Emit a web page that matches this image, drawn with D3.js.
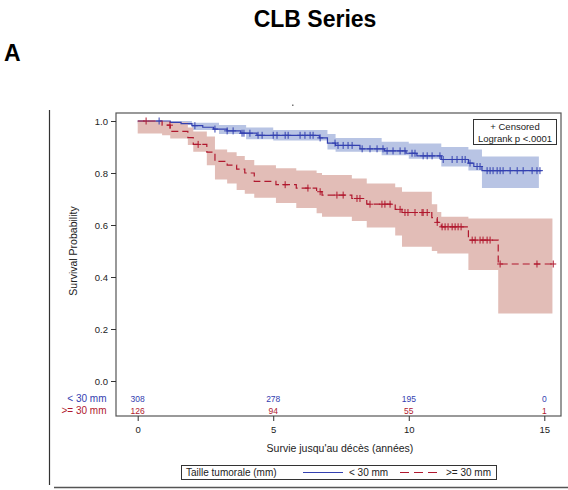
<!DOCTYPE html>
<html><head><meta charset="utf-8">
<script src="https://cdn.jsdelivr.net/npm/d3@7"></script>
<style>
body{margin:0;background:#fff;}
svg{display:block;font-family:Arial,"Liberation Sans",sans-serif;}
</style></head>
<body><svg id="c" width="568" height="490"></svg>
<script>
// ---- data ----
const groups = ["< 30 mm", ">= 30 mm"];
const xTicks = [0, 5, 10, 15];
const yTicks = [0.0, 0.2, 0.4, 0.6, 0.8, 1.0];
const atRiskSmall = [308, 278, 195, 0];
const atRiskLarge = [126, 94, 55, 1];

// KM steps [time, survival]
const stepsSmall = [[0,1.0],[1.2,0.995],[1.6,0.99],[2.0,0.982],[2.4,0.976],[2.8,0.969],[3.3,0.962],[3.8,0.953],[4.4,0.945],
  [6.7,0.935],[7.0,0.915],[7.3,0.906],[8.2,0.893],[9.1,0.885],[9.9,0.876],[10.3,0.866],[11.2,0.852],[12.2,0.838],[12.4,0.825],[12.7,0.809]];
const endSmall = 14.9;
const stepsLarge = [[0,1.0],[0.9,0.984],[1.2,0.96],[1.85,0.936],[2.05,0.91],[2.55,0.88],[2.85,0.845],[3.3,0.83],[3.65,0.815],[3.95,0.8],
  [4.3,0.768],[5.1,0.755],[5.85,0.742],[6.6,0.728],[6.8,0.715],[7.9,0.702],[8.45,0.68],[9.5,0.66],[9.75,0.648],[10.85,0.628],
  [11.05,0.61],[11.2,0.593],[12.2,0.542],[13.3,0.45]];
const endLarge = 15.3;

// confidence bands [time, lower, upper]
const ciSmall = [[0,0.99,1.0],[1.0,0.985,1.0],[2.0,0.965,0.993],[3.0,0.95,0.985],[4.0,0.93,0.975],[5.0,0.925,0.965],[7.0,0.89,0.95],
  [7.3,0.882,0.935],[9.0,0.868,0.92],[10.0,0.855,0.913],[11.2,0.825,0.9],[12.2,0.81,0.89],[12.7,0.742,0.863]];
const ciSmallEnd = 14.8;
const ciLarge = [[0,0.952,1.0],[0.9,0.945,1.0],[1.2,0.933,0.995],[1.85,0.908,0.975],[2.05,0.882,0.96],[2.55,0.83,0.94],[2.85,0.775,0.89],
  [3.3,0.76,0.88],[3.65,0.735,0.865],[3.95,0.72,0.85],[4.3,0.705,0.83],[5.1,0.685,0.818],[5.85,0.665,0.81],[6.6,0.645,0.8],
  [6.8,0.632,0.792],[7.9,0.615,0.779],[8.45,0.59,0.76],[9.5,0.56,0.745],[9.75,0.516,0.728],[10.85,0.5,0.68],[11.05,0.49,0.65],
  [11.2,0.49,0.632],[12.2,0.427,0.625],[13.3,0.26,0.625]];
const ciLargeEnd = 15.3;

// censored times
const censSmall = [0.79,2.11,2.85,3.3,3.52,3.85,3.92,4.14,4.44,4.59,5.0,5.14,5.44,5.55,5.99,6.17,6.36,6.47,6.73,7.28,7.39,7.58,7.76,7.91,
  8.28,8.57,8.83,9.05,9.2,9.42,9.68,9.86,10.12,10.23,10.53,10.68,10.86,11.15,11.27,11.6,11.78,11.97,12.08,12.26,12.52,12.63,12.89,
  13.0,13.11,13.26,13.37,13.48,13.74,14.0,14.22,14.55,14.73,14.84];
const censLarge = [0.31,1.19,2.23,5.44,6.28,6.73,7.35,7.58,8.09,8.2,8.57,9.01,9.12,9.31,9.68,9.86,9.97,10.23,10.49,10.53,10.68,
  11.05,11.23,11.34,11.45,11.6,11.71,11.82,11.93,12.34,12.45,12.63,12.74,12.89,13.0,13.37,14.73,15.33];

// ---- drawing ----
const svg = d3.select("#c");
const blue = "#3340b0", red = "#b0182e";
const blueBand = "#b8c4e4", redBand = "#e2bdb7";
const x = d3.scaleLinear().domain([0, 15]).range([137.7, 544.3]);
const y = d3.scaleLinear().domain([0, 1]).range([381, 121]);
const frame = {l:116, t:113, r:561, b:416};

// title & panel letter
svg.append("text").attr("x", 315).attr("y", 27).attr("text-anchor","middle")
  .attr("font-size", 23).attr("font-weight","bold").text("CLB Series");
svg.append("text").attr("x", 4).attr("y", 61).attr("font-size", 23).attr("font-weight","bold").text("A");
svg.append("rect").attr("x", 292).attr("y", 104.5).attr("width", 1.5).attr("height", 1.5).attr("fill", "#777");

// outer lines
svg.append("line").attr("x1",49.5).attr("x2",49.5).attr("y1",110).attr("y2",485).attr("stroke","#333").attr("stroke-width",1.2);
svg.append("line").attr("x1",54).attr("x2",568).attr("y1",487.5).attr("y2",487.5).attr("stroke","#555").attr("stroke-width",1.5);

// bands
const area = d3.area().curve(d3.curveStepAfter).x(d=>x(d[0])).y0(d=>y(d[1])).y1(d=>y(d[2]));
const withEnd = (arr, end) => arr.concat([[end, arr[arr.length-1][1], arr[arr.length-1][2]]]);
svg.append("path").datum(withEnd(ciSmall, ciSmallEnd)).attr("d", area).attr("fill", blueBand);
svg.append("path").datum(withEnd(ciLarge, ciLargeEnd)).attr("d", area).attr("fill", redBand);

// lines
const line = d3.line().curve(d3.curveStepAfter).x(d=>x(d[0])).y(d=>y(d[1]));
const stepEnd = (arr, end) => arr.concat([[end, arr[arr.length-1][1]]]);
svg.append("path").datum(stepEnd(stepsSmall, endSmall)).attr("d", line).attr("fill","none").attr("stroke", blue).attr("stroke-width",1.2);
svg.append("path").datum(stepEnd(stepsLarge, endLarge)).attr("d", line).attr("fill","none").attr("stroke", red)
  .attr("stroke-width",1.2).attr("stroke-dasharray","7,4");

// censor marks
function levelAt(steps, t){ let v = steps[0][1]; for (const s of steps){ if (s[0] <= t) v = s[1]; } return v; }
function drawCens(times, steps, col){
  const g = svg.append("g").attr("stroke", col).attr("stroke-width", 1);
  times.forEach(t => {
    const cx = x(t), cy = y(levelAt(steps, t));
    g.append("line").attr("x1", cx).attr("x2", cx).attr("y1", cy-3.5).attr("y2", cy+3.5);
    g.append("line").attr("x1", cx-3).attr("x2", cx+3).attr("y1", cy).attr("y2", cy);
  });
}
drawCens(censSmall, stepsSmall, blue);
drawCens(censLarge, stepsLarge, red);

// frame
svg.append("rect").attr("x", frame.l).attr("y", frame.t).attr("width", frame.r-frame.l).attr("height", frame.b-frame.t)
  .attr("fill","none").attr("stroke","#555").attr("stroke-width",1.2);

// axes
const yAxis = svg.append("g").attr("transform", `translate(${frame.l},0)`)
  .call(d3.axisLeft(y).tickValues(yTicks).tickFormat(d3.format(".1f")).tickSize(5).tickPadding(3));
const xAxis = svg.append("g").attr("transform", `translate(0,${frame.b})`)
  .call(d3.axisBottom(x).tickValues(xTicks).tickFormat(d3.format("d")).tickSize(5).tickPadding(5));
[yAxis, xAxis].forEach(a => {
  a.select(".domain").remove();
  a.selectAll("line").attr("stroke","#333");
  a.selectAll("text").attr("font-size", 9.5).attr("fill","#222").attr("font-family","Arial, 'Liberation Sans', sans-serif");
});

svg.append("text").attr("transform","translate(77,251) rotate(-90)").attr("text-anchor","middle")
  .attr("font-size",10.5).attr("fill","#222").text("Survival Probability");
svg.append("text").attr("x", 340).attr("y", 452).attr("text-anchor","middle")
  .attr("font-size",10.5).attr("fill","#222").text("Survie jusqu'au décès (années)");

// at-risk table
const riskRows = [[atRiskSmall, blue, 401.5, groups[0]], [atRiskLarge, red, 414, groups[1]]];
riskRows.forEach(([vals, col, yy, lab]) => {
  svg.append("text").attr("x", 106.5).attr("y", yy).attr("text-anchor","end").attr("font-size",10).attr("fill",col).text(lab);
  svg.selectAll(null).data(vals).enter().append("text")
    .attr("x", (d,i)=>x(xTicks[i])).attr("y", yy).attr("text-anchor","middle").attr("font-size",8.5).attr("fill",col).text(d=>d);
});

// censored/logrank box
svg.append("rect").attr("x",473.5).attr("y",119.5).attr("width",83).attr("height",25).attr("fill","#fff").attr("stroke","#333");
svg.append("text").attr("x",515).attr("y",130).attr("text-anchor","middle").attr("font-size",9.5).attr("fill","#222").text("+ Censored");
svg.append("text").attr("x",515).attr("y",142).attr("text-anchor","middle").attr("font-size",9.5).attr("fill","#222").text("Logrank p <.0001");

// legend
svg.append("rect").attr("x",181.5).attr("y",465.5).attr("width",315).attr("height",14).attr("fill","#fff").attr("stroke","#333");
svg.append("text").attr("x",186).attr("y",476).attr("font-size",10).attr("fill","#222").text("Taille tumorale (mm)");
svg.append("line").attr("x1",303).attr("x2",343).attr("y1",472.5).attr("y2",472.5).attr("stroke",blue).attr("stroke-width",1.2);
svg.append("text").attr("x",349).attr("y",476).attr("font-size",10).attr("fill","#222").text(groups[0]);
svg.append("line").attr("x1",400).attr("x2",437).attr("y1",472.5).attr("y2",472.5).attr("stroke",red).attr("stroke-width",1.2).attr("stroke-dasharray","9,5");
svg.append("text").attr("x",446).attr("y",476).attr("font-size",10).attr("fill","#222").text(groups[1]);
</script></body></html>
